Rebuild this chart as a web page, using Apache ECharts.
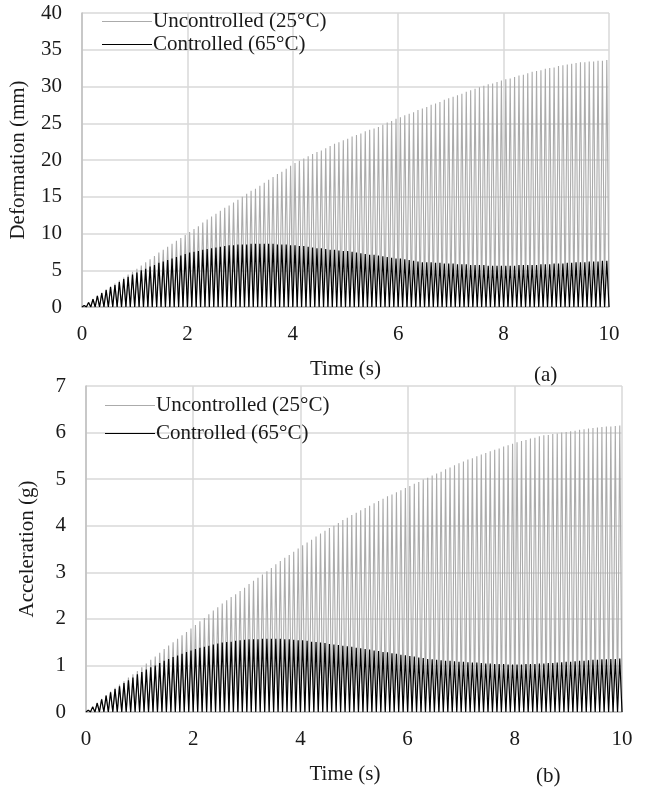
<!DOCTYPE html>
<html>
<head>
<meta charset="utf-8">
<script src="https://cdn.jsdelivr.net/npm/echarts@6/dist/echarts.min.js"></script>
<style>
html,body{margin:0;padding:0;background:#fff;}
#c{width:650px;height:789px;}
</style>
</head>
<body>
<div id="c"></div>
<script>
// ---- data (peak value of each oscillation cycle, troughs at 0) ----
var cyclesPerSecond = 12;
var timeTicks = [0, 2, 4, 6, 8, 10];
var seriesNames = ['Uncontrolled (25°C)', 'Controlled (65°C)'];

var deformUncontrolledPeaks = [
  0.2,0.65,1.1,1.5,1.95,2.4, 2.8,3.2,3.6,4.0,4.4,4.8, 5.2,5.65,6.1,6.5,6.95,7.4, 7.8,8.2,8.6,9.0,9.4,9.8,
  10.2,10.6,11.0,11.5,11.9,12.3, 12.7,13.1,13.5,13.8,14.2,14.6, 15.0,15.4,15.8,16.1,16.5,16.9, 17.3,17.7,18.1,18.4,18.8,19.2,
  19.6,19.9,20.2,20.5,20.8,21.1, 21.3,21.6,21.9,22.2,22.4,22.7, 22.9,23.2,23.4,23.6,23.9,24.1, 24.3,24.5,24.8,25.1,25.3,25.6,
  25.8,26.1,26.3,26.5,26.8,27.0, 27.2,27.5,27.7,27.9,28.2,28.4, 28.6,28.8,29.0,29.3,29.5,29.7, 29.9,30.1,30.3,30.4,30.6,30.8,
  31.0,31.1,31.3,31.5,31.6,31.8, 32.0,32.1,32.2,32.4,32.5,32.6, 32.8,32.9,33.0,33.1,33.2,33.3, 33.3,33.4,33.4,33.5,33.5,33.6
];
var deformControlledPeaks = [
  0.2,0.6,1.05,1.5,1.9,2.3, 2.7,3.0,3.4,3.8,4.1,4.4, 4.7,5.0,5.2,5.5,5.7,6.0, 6.2,6.4,6.6,6.8,7.0,7.2,
  7.4,7.5,7.6,7.8,7.9,8.0, 8.1,8.2,8.3,8.4,8.4,8.5, 8.5,8.5,8.6,8.6,8.6,8.6, 8.6,8.6,8.5,8.5,8.5,8.4,
  8.4,8.3,8.3,8.2,8.1,8.0, 8.0,7.9,7.8,7.8,7.7,7.6, 7.6,7.5,7.4,7.3,7.2,7.1, 7.1,7.0,6.9,6.8,6.7,6.6,
  6.6,6.5,6.4,6.3,6.2,6.1, 6.1,6.1,6.0,6.0,5.9,5.9, 5.9,5.8,5.8,5.8,5.7,5.7, 5.7,5.7,5.6,5.6,5.6,5.6,
  5.6,5.6,5.6,5.7,5.7,5.7, 5.7,5.7,5.8,5.8,5.8,5.9, 5.9,5.9,6.0,6.0,6.1,6.1, 6.1,6.2,6.2,6.2,6.3,6.3
];
var accelUncontrolledPeaks = [
  0.04,0.12,0.2,0.28,0.36,0.44, 0.52,0.59,0.66,0.74,0.81,0.88, 0.96,1.04,1.12,1.19,1.27,1.35, 1.43,1.50,1.57,1.65,1.72,1.79,
  1.87,1.95,2.02,2.10,2.18,2.25, 2.33,2.40,2.47,2.53,2.60,2.67, 2.75,2.82,2.88,2.95,3.02,3.09, 3.17,3.24,3.31,3.37,3.44,3.51,
  3.58,3.64,3.70,3.77,3.83,3.89, 3.95,4.00,4.06,4.12,4.17,4.23, 4.28,4.33,4.38,4.43,4.48,4.53, 4.58,4.63,4.67,4.72,4.76,4.81,
  4.85,4.90,4.94,4.99,5.03,5.08, 5.12,5.16,5.21,5.25,5.30,5.34, 5.38,5.42,5.45,5.49,5.53,5.56, 5.60,5.63,5.66,5.70,5.73,5.76,
  5.79,5.82,5.84,5.87,5.89,5.92, 5.94,5.95,5.97,5.98,6.00,6.01, 6.03,6.04,6.06,6.07,6.09,6.10, 6.11,6.12,6.13,6.13,6.14,6.15
];
var accelControlledPeaks = [
  0.04,0.11,0.19,0.27,0.35,0.42, 0.49,0.55,0.62,0.68,0.74,0.81, 0.86,0.91,0.96,1.0,1.05,1.10, 1.14,1.18,1.21,1.25,1.29,1.32,
  1.35,1.38,1.40,1.42,1.45,1.47, 1.49,1.50,1.51,1.53,1.54,1.55, 1.56,1.56,1.56,1.57,1.57,1.57, 1.57,1.57,1.56,1.56,1.55,1.54,
  1.54,1.53,1.51,1.50,1.49,1.48, 1.46,1.45,1.44,1.42,1.41,1.40, 1.38,1.37,1.35,1.34,1.32,1.31, 1.29,1.28,1.26,1.25,1.23,1.22,
  1.20,1.19,1.17,1.16,1.14,1.13, 1.12,1.11,1.10,1.10,1.09,1.08, 1.08,1.07,1.06,1.06,1.05,1.04, 1.04,1.03,1.03,1.03,1.02,1.02,
  1.02,1.02,1.03,1.03,1.03,1.04, 1.04,1.05,1.05,1.06,1.07,1.08, 1.08,1.09,1.10,1.10,1.11,1.12, 1.12,1.13,1.13,1.14,1.14,1.15
];

// build oscillation points: trough (0) at start of each cycle, peak at mid-cycle
function buildWave(peaks) {
  var T = 1 / cyclesPerSecond, pts = [];
  for (var i = 0; i < peaks.length; i++) {
    pts.push([i * T, 0]);
    pts.push([(i + 0.5) * T, peaks[i]]);
  }
  pts.push([peaks.length * T, 0]);
  return pts;
}

var FONT = '"Liberation Serif", "Times New Roman", serif';
var FS = 21;
var TXT = '#1a1a1a';
var GRID_C = '#d9d9d9';
var GREY = '#ababab';
var BLACK = '#000000';

function xAx(gi, namePad) {
  return {
    type: 'value', gridIndex: gi, min: 0, max: 10, interval: 2,
    name: 'Time (s)', nameLocation: 'middle', nameGap: 52,
    nameTextStyle: {fontFamily: FONT, fontSize: FS, color: TXT, padding: namePad},
    axisLine: {show: true, lineStyle: {color: '#bfbfbf', width: 1.5}},
    axisTick: {show: false},
    axisLabel: {fontFamily: FONT, fontSize: FS, color: TXT, margin: 17},
    splitLine: {show: true, lineStyle: {color: GRID_C, width: 1.5}}
  };
}
function yAx(gi, max, interval, name, gap) {
  return {
    type: 'value', gridIndex: gi, min: 0, max: max, interval: interval,
    name: name, nameLocation: 'middle', nameGap: gap,
    nameTextStyle: {fontFamily: FONT, fontSize: FS, color: TXT},
    axisLine: {show: true, lineStyle: {color: '#bfbfbf', width: 1.5}},
    axisTick: {show: false},
    axisLabel: {fontFamily: FONT, fontSize: FS, color: TXT, margin: 20},
    splitLine: {show: true, lineStyle: {color: GRID_C, width: 1.5}}
  };
}
function lineSeries(name, color, xi, data, w, z) {
  return {
    type: 'line', name: name, xAxisIndex: xi, yAxisIndex: xi,
    data: data, showSymbol: false, symbol: 'none', smooth: false,
    lineStyle: {color: color, width: w}, itemStyle: {color: color},
    z: z, animation: false, silent: true
  };
}
function legend(top, left, gap) {
  return {
    data: seriesNames, orient: 'vertical', top: top, left: left,
    itemWidth: 50, itemHeight: 10, itemGap: gap, padding: 0,
    textStyle: {fontFamily: FONT, fontSize: FS, color: TXT, padding: [0, 0, 0, -4]},
    icon: 'path://M0,5 L50,5 L50,6 L0,6 Z',
    selectedMode: false
  };
}

var chart = echarts.init(document.getElementById('c'), null, {renderer: 'canvas'});
chart.setOption({
  backgroundColor: '#ffffff',
  animation: false,
  title: [
    {text: '(a)', left: 534, top: 365, padding: 0, textStyle: {fontFamily: FONT, fontSize: FS, fontWeight: 'normal', color: TXT}},
    {text: '(b)', left: 536, top: 766, padding: 0, textStyle: {fontFamily: FONT, fontSize: FS, fontWeight: 'normal', color: TXT}}
  ],
  legend: [legend(11, 102, 2), legend(395, 105, 7)],
  grid: [
    {left: 82, right: 41, top: 13, height: 294},
    {left: 86, right: 28, top: 386, height: 326}
  ],
  xAxis: [xAx(0, [0, 0, 0, 0]), xAx(1, [0, 18, 0, 0])],
  yAxis: [yAx(0, 40, 5, 'Deformation (mm)', 53), yAx(1, 7, 1, 'Acceleration (g)', 48)],
  series: [
    lineSeries(seriesNames[0], GREY, 0, buildWave(deformUncontrolledPeaks), 1.1, 2),
    lineSeries(seriesNames[1], BLACK, 0, buildWave(deformControlledPeaks), 1.2, 3),
    lineSeries(seriesNames[0], GREY, 1, buildWave(accelUncontrolledPeaks), 1.1, 2),
    lineSeries(seriesNames[1], BLACK, 1, buildWave(accelControlledPeaks), 1.2, 3)
  ]
});
</script>
</body>
</html>
